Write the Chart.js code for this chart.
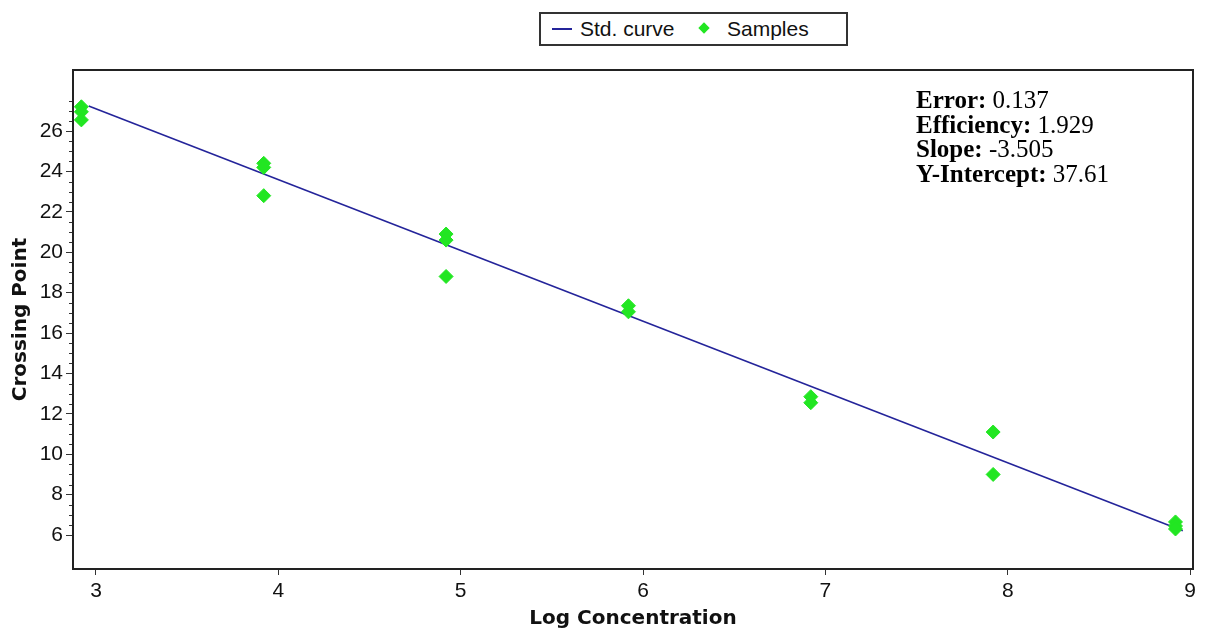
<!DOCTYPE html>
<html>
<head>
<meta charset="utf-8">
<script src="https://cdn.jsdelivr.net/npm/chart.js@4.4.0/dist/chart.umd.min.js"></script>
<style>
  body { margin: 0; background: #fff; }
  #wrap { position: relative; width: 1206px; height: 634px; }
  #legend {
    position: absolute; left: 539px; top: 12px; width: 305px; height: 30px;
    border: 2px solid #333; background: #fff;
    font-family: "Liberation Sans", Arial, sans-serif; font-size: 21px; color: #111;
  }
  #legend span { position: absolute; top: 3px; line-height: 24px; white-space: nowrap; }
  .swLine { position: absolute; left: 11px; top: 14px; width: 20px; height: 2px; background: #24249a; }
  .swDot { position: absolute; left: 159px; top: 10px; width: 8px; height: 8px; background: #22e622; transform: rotate(45deg); }
</style>
</head>
<body>
<div id="wrap">
  <canvas id="chart" width="1206" height="634"></canvas>
  <div id="legend">
    <div class="swLine"></div><span style="left:39px">Std. curve</span>
    <div class="swDot"></div><span style="left:186px">Samples</span>
  </div>
</div>
<script>
// axis ticks
const xTicks = [3, 4, 5, 6, 7, 8, 9];
const yTicks = [6, 8, 10, 12, 14, 16, 18, 20, 22, 24, 26];

// samples (log concentration, crossing point)
const sampleX = [2.92, 2.92, 2.92, 3.92, 3.92, 3.92, 4.92, 4.92, 4.92, 5.92, 5.92, 6.92, 6.92, 7.92, 7.92, 8.92, 8.92, 8.92];
const sampleY = [27.2, 26.95, 26.55, 24.4, 24.2, 22.8, 20.9, 20.6, 18.8, 17.35, 17.05, 12.85, 12.55, 11.1, 9.0, 6.65, 6.45, 6.3];

// standard curve end points
const curveX = [2.96, 8.96];
const curveY = [27.24, 6.21];

const statLabels = ["Error:", "Efficiency:", "Slope:", "Y-Intercept:"];
const statValues = ["0.137", "1.929", "-3.505", "37.61"];

const tickFont = { family: "'Liberation Sans Narrow', 'Liberation Sans', Arial, sans-serif", size: 21 };
const titleFont = { family: "'DejaVu Sans', sans-serif", size: 20, weight: "bold" };

const extras = {
  id: "extras",
  afterDraw(c) {
    const ctx = c.ctx;
    const a = c.chartArea;
    const y = c.scales.y;
    ctx.save();
    // minor ticks on y
    ctx.strokeStyle = "#333";
    ctx.lineWidth = 1;
    for (let v = 6.5; v <= 27.5; v += 0.5) {
      if (v % 2 === 0) continue;
      const py = Math.round(y.getPixelForValue(v)) + 0.5;
      ctx.beginPath();
      ctx.moveTo(a.left - 4, py);
      ctx.lineTo(a.left, py);
      ctx.stroke();
    }
    // frame
    ctx.strokeStyle = "#222";
    ctx.lineWidth = 2;
    ctx.strokeRect(a.left, a.top, a.right - a.left, a.bottom - a.top);
    // stats text
    ctx.fillStyle = "#000";
    ctx.textBaseline = "alphabetic";
    statLabels.forEach((lab, i) => {
      const by = 108 + i * 24.6;
      ctx.font = "bold 25px 'Liberation Serif', 'Times New Roman', serif";
      ctx.fillText(lab, 916, by);
      const w = ctx.measureText(lab + " ").width;
      ctx.font = "25px 'Liberation Serif', 'Times New Roman', serif";
      ctx.fillText(statValues[i], 916 + w, by);
    });
    ctx.restore();
  }
};

new Chart(document.getElementById("chart"), {
  type: "scatter",
  data: {
    datasets: [
      {
        label: "Std. curve",
        data: curveX.map((x, i) => ({ x, y: curveY[i] })),
        showLine: true,
        borderColor: "#24249a",
        borderWidth: 1.6,
        pointRadius: 0,
        order: 1
      },
      {
        label: "Samples",
        data: sampleX.map((x, i) => ({ x, y: sampleY[i] })),
        pointStyle: "rectRot",
        pointRadius: 7,
        backgroundColor: "#22e622",
        borderColor: "#22e622",
        borderWidth: 1,
        order: 0
      }
    ]
  },
  options: {
    responsive: false,
    animation: false,
    layout: { padding: { left: 0, top: 70, right: 13, bottom: 0 } },
    plugins: { legend: { display: false }, tooltip: { enabled: false } },
    scales: {
      x: {
        type: "linear",
        min: 2.874,
        max: 9.016,
        afterBuildTicks: s => { s.ticks = xTicks.map(v => ({ value: v })); },
        afterFit: s => { s.height = 65; },
        grid: { drawOnChartArea: false, tickLength: 6, color: "#333" },
        border: { color: "#222", width: 2 },
        ticks: { font: tickFont, color: "#111", padding: 4, maxRotation: 0, autoSkip: false },
        title: { display: true, text: "Log Concentration", font: titleFont, color: "#111", padding: { top: 0, bottom: 3 } }
      },
      y: {
        type: "linear",
        min: 4.32,
        max: 29.02,
        afterBuildTicks: s => { s.ticks = yTicks.map(v => ({ value: v })); },
        afterFit: s => { s.width = 73; },
        grid: { drawOnChartArea: false, tickLength: 7, color: "#333" },
        border: { color: "#222", width: 2 },
        ticks: { font: tickFont, color: "#111", padding: 3, autoSkip: false },
        title: { display: true, text: "Crossing Point", font: titleFont, color: "#111", padding: { top: 9, bottom: 0 } }
      }
    }
  },
  plugins: [extras]
});
</script>
</body>
</html>
